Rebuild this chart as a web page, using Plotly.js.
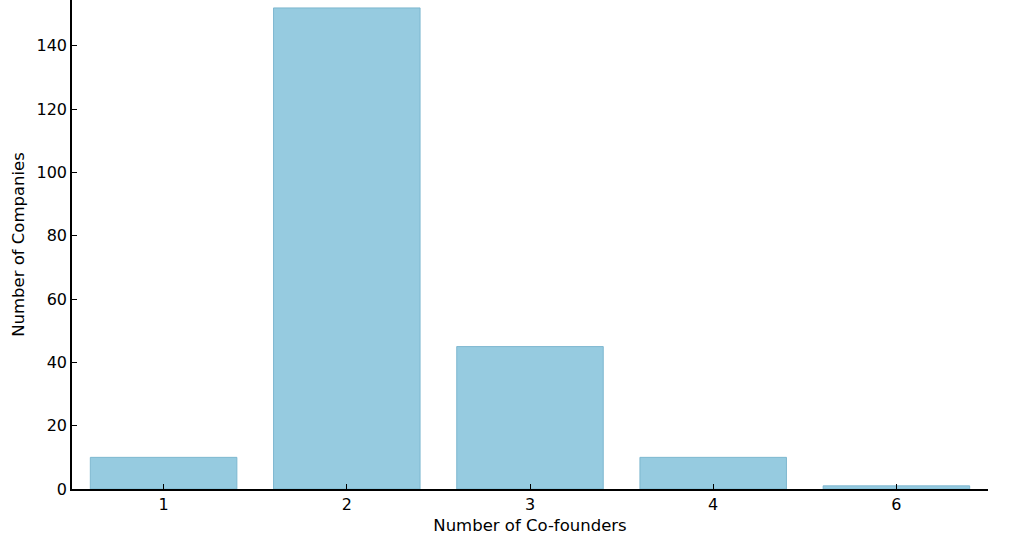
<!DOCTYPE html>
<html>
<head>
<meta charset="utf-8">
<script src="https://cdn.plot.ly/plotly-3.0.1.min.js"></script>
<style>
  html, body { margin: 0; padding: 0; background: #fff; }
  #chart { width: 1024px; height: 560px; }
</style>
</head>
<body>
<div id="chart"></div>
<script>
// co-founder counts and how many companies had each
const cofounders = ["1", "2", "3", "4", "6"];
const companies = [10, 152, 45, 10, 1];

const trace = {
  type: "bar",
  x: cofounders,
  y: companies,
  width: 0.8,
  marker: {
    color: "rgba(135, 196, 220, 0.88)",
    line: { color: "rgba(120, 180, 205, 0.9)", width: 1 },
  },
  hoverinfo: "x+y",
};

const tickFont = { family: "DejaVu Sans", size: 16, color: "#000" };
const titleFont = { family: "DejaVu Sans", size: 16.5, color: "#000" };

const layout = {
  width: 1024,
  height: 560,
  margin: { t: 0, b: 71, l: 72, r: 36 },
  paper_bgcolor: "#fff",
  plot_bgcolor: "#fff",
  showlegend: false,
  bargap: 0.2,
  xaxis: {
    type: "category",
    range: [-0.5, 4.5],
    showline: true,
    linecolor: "#000",
    linewidth: 1.5,
    showgrid: false,
    zeroline: false,
    ticks: "inside",
    ticklen: 5,
    tickcolor: "#000",
    tickfont: tickFont,
    title: { text: "Number of Co-founders", font: titleFont, standoff: 6 },
  },
  yaxis: {
    range: [0, 154.5],
    tickvals: [0, 20, 40, 60, 80, 100, 120, 140],
    showline: true,
    linecolor: "#000",
    linewidth: 1.5,
    showgrid: false,
    zeroline: false,
    ticks: "inside",
    ticklen: 5,
    tickcolor: "#000",
    tickfont: tickFont,
    title: { text: "Number of Companies", font: titleFont, standoff: 8 },
  },
};

Plotly.newPlot("chart", [trace], layout, { displayModeBar: false });
</script>
</body>
</html>
